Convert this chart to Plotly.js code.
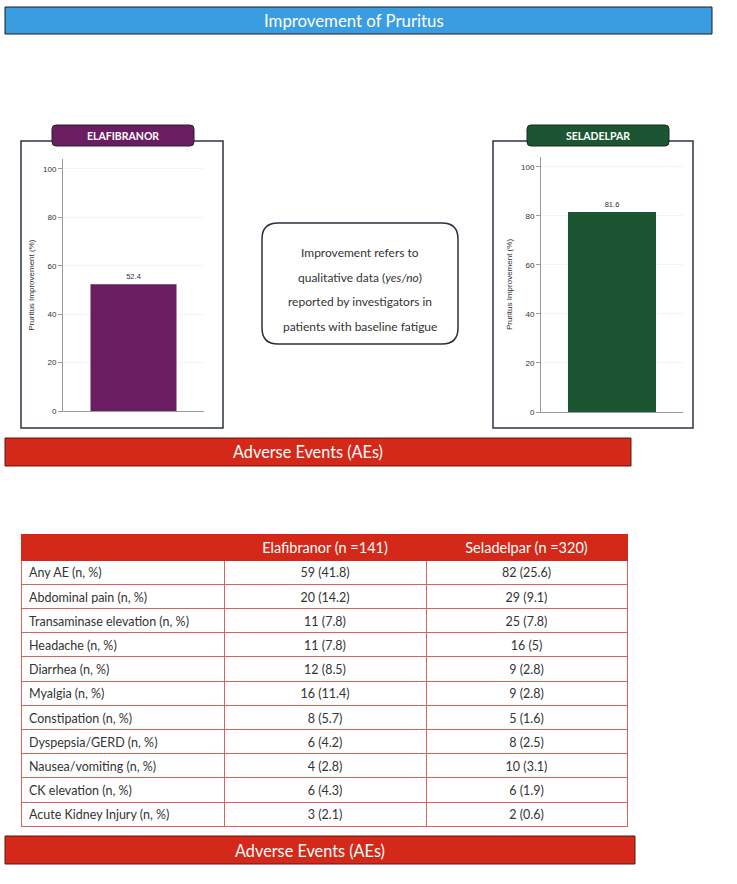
<!DOCTYPE html>
<html><head><meta charset="utf-8">
<script src="https://cdn.plot.ly/plotly-3.0.1.min.js"></script>
<style>html,body{margin:0;padding:0;background:#fff}#chart{width:737px;height:884px}</style>
</head><body><div id="chart"></div>
<script>
// ---- data ----
const drugs = ['ELAFIBRANOR', 'SELADELPAR'];
const pruritusImprovement = [52.4, 81.6];
const yTicks = [0, 20, 40, 60, 80, 100];
const yAxisTitle = 'Pruritus Improvement (%)';
const topTitle = 'Improvement of Pruritus';
const aeTitle = 'Adverse Events (AEs)';
const noteLines = ['Improvement refers to', 'qualitative data (<i>yes/no</i>)', 'reported by investigators in', 'patients with baseline fatigue'];
const tableHeaders = ['', 'Elafibranor (n =141)', 'Seladelpar (n =320)'];
const aeLabels = ['Any AE (n, %)', 'Abdominal pain (n, %)', 'Transaminase elevation (n, %)', 'Headache (n, %)', 'Diarrhea (n, %)', 'Myalgia (n, %)', 'Constipation (n, %)', 'Dyspepsia/GERD (n, %)', 'Nausea/vomiting (n, %)', 'CK elevation (n, %)', 'Acute Kidney Injury (n, %)'];
const elafibranorAE = ['59 (41.8)', '20 (14.2)', '11 (7.8)', '11 (7.8)', '12 (8.5)', '16 (11.4)', '8 (5.7)', '6 (4.2)', '4 (2.8)', '6 (4.3)', '3 (2.1)'];
const seladelparAE = ['82 (25.6)', '29 (9.1)', '25 (7.8)', '16 (5)', '9 (2.8)', '9 (2.8)', '5 (1.6)', '8 (2.5)', '10 (3.1)', '6 (1.9)', '2 (0.6)'];

// ---- geometry helpers ----
const W = 737, H = 884;
const X = x => x / W;
const Y = y => 1 - y / H;
const F = 'Lato, "Open Sans", sans-serif';
const AF = '"Liberation Sans", Arial, sans-serif';

function roundRect(x0, y0, x1, y1, r) {
  const a = X(x0), b = X(x1), c = Y(y0), d = Y(y1);
  const rx = r / W, ry = r / H;
  return `M${a + rx},${c} L${b - rx},${c} Q${b},${c} ${b},${c - ry} L${b},${d + ry} Q${b},${d} ${b - rx},${d} L${a + rx},${d} Q${a},${d} ${a},${d + ry} L${a},${c - ry} Q${a},${c} ${a + rx},${c} Z`;
}

const barColors = ['#6b1d61', '#1b5531'];
const traces = [
  {type: 'bar', x: [drugs[0]], y: [pruritusImprovement[0]], xaxis: 'x', yaxis: 'y', width: 0.61,
   marker: {color: barColors[0]}, text: [pruritusImprovement[0].toFixed(1)], textposition: 'outside',
   textfont: {size: 7.5, color: '#333', family: AF}, cliponaxis: false, hoverinfo: 'skip'},
  {type: 'bar', x: [drugs[1]], y: [pruritusImprovement[1]], xaxis: 'x2', yaxis: 'y2', width: 0.62,
   marker: {color: barColors[1]}, text: [pruritusImprovement[1].toFixed(1)], textposition: 'outside',
   textfont: {size: 7.5, color: '#333', family: AF}, cliponaxis: false, hoverinfo: 'skip'},
  {type: 'table', domain: {x: [X(21), X(627)], y: [Y(832), Y(534)]},
   columnwidth: [203, 202, 201],
   header: {values: tableHeaders, fill: {color: '#d42818'}, line: {color: '#d42818', width: 1},
            font: {family: F, size: 14.5, color: '#ffffff'}, align: ['left', 'center', 'center'], height: 26},
   cells: {values: [aeLabels, elafibranorAE, seladelparAE], fill: {color: '#ffffff'},
           line: {color: '#d9625a', width: 1}, font: {family: F, size: 12.5, color: '#333333'},
           align: ['left', 'center', 'center'], height: 24.2}}
];

function xAx(d0, d1, anchor) {
  return {domain: [X(d0), X(d1)], anchor: anchor, range: [-0.5, 0.5], showline: true, linecolor: '#9a9a9a',
          linewidth: 1, showticklabels: false, ticks: '', showgrid: false, zeroline: false, fixedrange: true};
}
function yAx(y0, top, anchor) {
  return {domain: [Y(y0), Y(top)], anchor: anchor, range: [0, 104], tickvals: yTicks, ticks: 'outside', ticklen: 4,
          tickcolor: '#9a9a9a', showline: true, linecolor: '#9a9a9a', linewidth: 1,
          tickfont: {size: 8, color: '#333', family: AF}, showgrid: true, gridcolor: '#f4f4f4', zeroline: false,
          title: {text: yAxisTitle, font: {size: 8, color: '#333', family: AF}, standoff: 7}, fixedrange: true};
}

const shapes = [
  {type: 'rect', xref: 'paper', yref: 'paper', x0: X(5), x1: X(712), y0: Y(7), y1: Y(34), fillcolor: '#3a9de2', line: {color: '#1c1c1c', width: 1}, layer: 'below'},
  {type: 'rect', xref: 'paper', yref: 'paper', x0: X(21), x1: X(223), y0: Y(141), y1: Y(428), line: {color: '#2c3440', width: 1.5}, layer: 'below'},
  {type: 'rect', xref: 'paper', yref: 'paper', x0: X(493), x1: X(693), y0: Y(141), y1: Y(428), line: {color: '#2c3440', width: 1.5}, layer: 'below'},
  {type: 'path', xref: 'paper', yref: 'paper', path: roundRect(52, 125, 194, 146, 4), fillcolor: '#6b1d61', line: {color: '#2c2030', width: 1}},
  {type: 'path', xref: 'paper', yref: 'paper', path: roundRect(527, 125, 669, 146, 4), fillcolor: '#1b5531', line: {color: '#1c2a22', width: 1}},
  {type: 'path', xref: 'paper', yref: 'paper', path: roundRect(262, 223, 458, 344, 16), fillcolor: 'rgba(0,0,0,0)', line: {color: '#2a2f3a', width: 1.5}},
  {type: 'rect', xref: 'paper', yref: 'paper', x0: X(5), x1: X(631), y0: Y(438), y1: Y(466), fillcolor: '#d42818', line: {color: '#5a1a12', width: 1}},
  {type: 'rect', xref: 'paper', yref: 'paper', x0: X(5), x1: X(635), y0: Y(836), y1: Y(864), fillcolor: '#d42818', line: {color: '#5a1a12', width: 1}}
];

const ann = (x, y, text, size, color, extra) => Object.assign({xref: 'paper', yref: 'paper', x: X(x), y: Y(y), text: text,
  showarrow: false, xanchor: 'center', yanchor: 'middle', font: {family: F, size: size, color: color}}, extra || {});

const annotations = [
  ann(354, 20, topTitle, 16.8, '#ffffff'),
  ann(123, 135.5, '<b>' + drugs[0] + '</b>', 10.5, '#ffffff'),
  ann(598, 135.5, '<b>' + drugs[1] + '</b>', 10.5, '#ffffff'),
  ann(308, 452, aeTitle, 16.3, '#ffffff'),
  ann(310, 850, aeTitle, 16.3, '#ffffff')
];
const noteY = [252, 277, 301, 326];
noteLines.forEach((t, i) => annotations.push(ann(360, noteY[i], t, 12, '#333333')));

const layout = {
  width: W, height: H, margin: {l: 0, r: 0, t: 0, b: 0}, paper_bgcolor: '#ffffff', plot_bgcolor: 'rgba(0,0,0,0)',
  showlegend: false, font: {family: F},
  xaxis: xAx(63, 204, 'y'), yaxis: yAx(411, 159.3, 'x'),
  xaxis2: xAx(541, 683, 'y2'), yaxis2: yAx(412, 157, 'x2'),
  shapes: shapes, annotations: annotations
};

Plotly.newPlot('chart', traces, layout, {displayModeBar: false, staticPlot: true});
</script>
</body></html>
